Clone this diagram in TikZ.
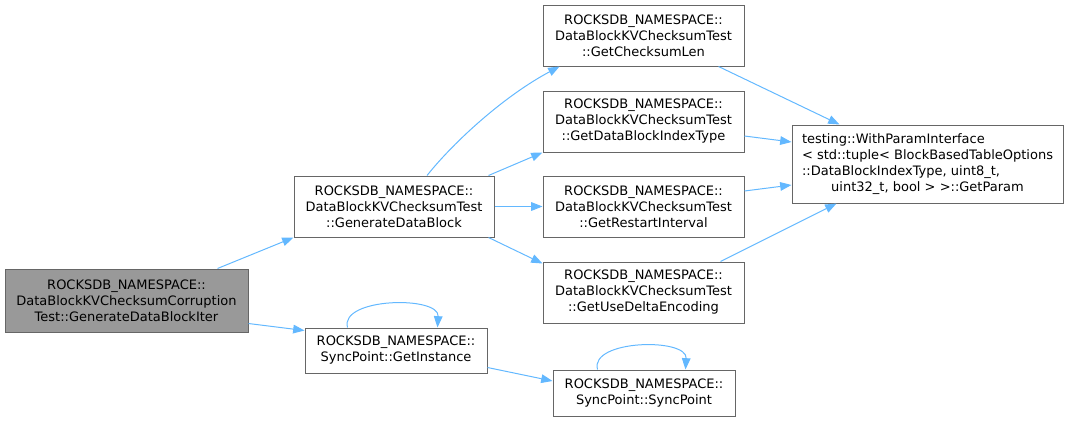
\documentclass[tikz,border=0pt]{standalone}
\usepackage{fontspec}
\setmainfont{DejaVu Sans}
\usetikzlibrary{arrows.meta,calc}
\definecolor{edgeblue}{HTML}{63B8FF}
\definecolor{boxgray}{HTML}{666666}
\definecolor{fillgray}{HTML}{999999}
\begin{document}
\begin{tikzpicture}[x=0.75pt,y=-0.75pt,
  box/.style={draw=boxgray,line width=0.75pt,fill=white,align=center,inner sep=0pt,
    font=\fontsize{9.75}{12}\selectfont},
  cur/.style={box,fill=fillgray},
  edge/.style={draw=edgeblue,line width=0.75pt,-{Triangle[length=8.5pt,width=6.5pt]}}]
\useasboundingbox (0,0) rectangle (1070,421);
\node[cur,minimum width=182.25pt,minimum height=47.25pt] (A) at (126.5,300.5)
  {ROCKSDB\_NAMESPACE::\\DataBlockKVChecksumCorruption\\Test::GenerateDataBlockIter};
\node[box,minimum width=150pt,minimum height=45.75pt] (B) at (394,206.5)
  {ROCKSDB\_NAMESPACE::\\DataBlockKVChecksumTest\\::GenerateDataBlock};
\node[box,minimum width=150.75pt,minimum height=45.75pt] (C) at (643.5,35.5)
  {ROCKSDB\_NAMESPACE::\\DataBlockKVChecksumTest\\::GetChecksumLen};
\node[box,minimum width=150.75pt,minimum height=45.75pt] (D) at (643.5,121.5)
  {ROCKSDB\_NAMESPACE::\\DataBlockKVChecksumTest\\::GetDataBlockIndexType};
\node[box,minimum width=150.75pt,minimum height=45.75pt] (E) at (643.5,206.5)
  {ROCKSDB\_NAMESPACE::\\DataBlockKVChecksumTest\\::GetRestartInterval};
\node[box,minimum width=150.75pt,minimum height=45.75pt] (F) at (643.5,292.5)
  {ROCKSDB\_NAMESPACE::\\DataBlockKVChecksumTest\\::GetUseDeltaEncoding};
\node[box,minimum width=203.25pt,minimum height=58.5pt] (G) at (927.5,164)
  {\begin{tabular}{@{}l@{}}testing::WithParamInterface\\
   < std::tuple< BlockBasedTableOptions\\
   ::DataBlockIndexType, uint8\_t,\\
   \multicolumn{1}{@{}c@{}}{uint32\_t, bool > >::GetParam}\end{tabular}};
\node[box,minimum width=136.5pt,minimum height=33.75pt] (H) at (396,350.5)
  {ROCKSDB\_NAMESPACE::\\SyncPoint::GetInstance};
\node[box,minimum width=136.5pt,minimum height=34.5pt] (I) at (644,393)
  {ROCKSDB\_NAMESPACE::\\SyncPoint::SyncPoint};
\draw[edge] ($(A.north east)+(-31,0)$) -- (B.south west);
\draw[edge] ($(A.south east)+(0,-9)$) -- ($(H.north west)+(0,3)$);
\draw[edge] ($(B.north)+(33,0)$) .. controls ($(B.north)+(61,-35)$) and ($(B.north)+(111,-80)$) .. ($(C.south west)+(17,0)$);
\draw[edge] ($(B.north east)+(-6,0)$) -- (D.south west);
\draw[edge] (B.east) -- (E.west);
\draw[edge] ($(B.south east)+(-6,0)$) -- ($(F.north west)+(0,2)$);
\draw[edge] ($(C.south east)+(-26,0)$) -- ($(G.north west)+(48,0)$);
\draw[edge] ($(D.east)+(0,14.5)$) -- ($(G.west)+(0,-22)$);
\draw[edge] ($(E.east)+(0,-15.5)$) -- ($(G.west)+(0,21)$);
\draw[edge] ($(F.north east)+(-24,0)$) -- ($(G.south west)+(45,0)$);
\draw[edge] ($(H.north west)+(43,0)$) .. controls ($(H.north west)+(35,-30)$) and ($(H.north west)+(135,-32)$) .. ($(H.north west)+(133,0)$);
\draw[edge] ($(H.east)+(0,17)$) -- ($(I.west)+(0,-12)$);
\draw[edge] ($(I.north west)+(45,0)$) .. controls ($(I.north west)+(37,-30)$) and ($(I.north west)+(135,-32)$) .. ($(I.north west)+(133,0)$);
\end{tikzpicture}
\end{document}
